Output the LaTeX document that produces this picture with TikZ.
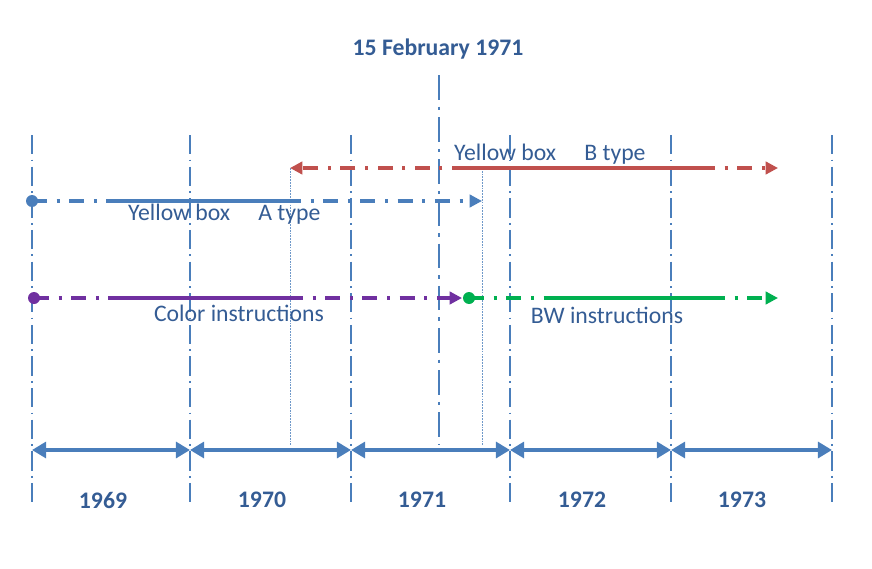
\documentclass[tikz,border=0pt]{standalone}
\usepackage{fontspec}
\setmainfont{Carlito}
\usetikzlibrary{arrows.meta}
\definecolor{lineblue}{RGB}{74,126,187}
\definecolor{linered}{RGB}{192,80,77}
\definecolor{linepurple}{RGB}{112,48,160}
\definecolor{linegreen}{RGB}{0,176,80}
\definecolor{textblue}{RGB}{52,92,148}
\tikzset{ bound/.style = { draw = lineblue % year boundary
, line width = 0.6pt
, dash pattern = on 11pt off 3pt on 1pt off 3pt
}
, today/.style = { draw = lineblue % the day itself
, line width = 1.3pt
, dash pattern = on 14pt off 4pt on 2pt off 4pt
}
, guide/.style = { draw = lineblue!80 % thin drop line
, line width = 0.4pt
, dash pattern = on 1pt off 0.6pt
}
, dd/.style = { line width = 2.3pt % dash dot
, dash pattern = on 8.5pt off 5.5pt on 1.7pt off 5.5pt
}
, full/.style = { line width = 2.3pt % solid part
}
, tip/.style = { -{Triangle[length=7pt,width=7pt]}
}
, dot/.style = { circle
, inner sep = 0pt
, minimum size = 2.4mm
}
, yr/.style = { {Triangle[length=8pt,width=9pt]}-{Triangle[length=8pt,width=9pt]}
, draw = lineblue
, line width = 2.3pt
}
, lbl/.style = { font = \fontsize{13.5}{15}\selectfont
, text = textblue
}
, year/.style = { font = \fontsize{13.5}{15}\selectfont\bfseries
, text = textblue
}
}
\begin{document}
\begin{tikzpicture}[x=0.02cm, y=-0.02cm]
        \useasboundingbox (0,0) rectangle (872,568);

        % year boundaries
            \coordinate (t0) at (32,135);  \coordinate (u0) at (32,505);
            \coordinate (t1) at (190,135); \coordinate (u1) at (190,505);
            \coordinate (t2) at (351,135); \coordinate (u2) at (351,505);
            \coordinate (t3) at (510,135); \coordinate (u3) at (510,505);
            \coordinate (t4) at (671,135); \coordinate (u4) at (671,505);
            \coordinate (t5) at (832,135); \coordinate (u5) at (832,505);
            \draw [bound] (t0) -- (u0);
            \draw [bound] (t1) -- (u1);
            \draw [bound] (t2) -- (u2);
            \draw [bound] (t3) -- (u3);
            \draw [bound] (t4) -- (u4);
            \draw [bound] (t5) -- (u5);

        % years
            \coordinate (y0) at (32,450);
            \coordinate (y1) at (190,450);
            \coordinate (y2) at (351,450);
            \coordinate (y3) at (510,450);
            \coordinate (y4) at (671,450);
            \coordinate (y5) at (832,450);
            \draw [yr] (y0) -- (y1);
            \draw [yr] (y1) -- (y2);
            \draw [yr] (y2) -- (y3);
            \draw [yr] (y3) -- (y4);
            \draw [yr] (y4) -- (y5);
            \node [year] (n1969) at (103,500) {1969};
            \node [year] (n1970) at (262,500) {1970};
            \node [year] (n1971) at (422,500) {1971};
            \node [year] (n1972) at (582,500) {1972};
            \node [year] (n1973) at (742,500) {1973};

        % 15 February 1971
            \node [year] (day) at (438,49) {15 February 1971};
            \coordinate (d1) at (439,75);
            \coordinate (d2) at (439,445);
            \draw [today] (d1) -- (d2);

        % drop lines
            \coordinate (g1) at (290,168); \coordinate (g2) at (290,445);
            \coordinate (g3) at (482,168); \coordinate (g4) at (482,445);
            \draw [guide] (g1) -- (g2);
            \draw [guide] (g3) -- (g4);

        % yellow box B type
            \coordinate (b0) at (290,168);
            \coordinate (b1) at (467,168);
            \coordinate (b2) at (700,168);
            \coordinate (b3) at (778,168);
            \draw [dd, linered, -{Triangle[length=7pt,width=7pt]}] (b1) -- (b0);
            \draw [full, linered] (b1) -- (b2);
            \draw [dd, linered, tip] (b2) -- (b3);
            \node [lbl, anchor=west] (lb) at (448,154) {Yellow box\hspace{16pt}B type};

        % yellow box A type
            \node [dot, fill=lineblue] (a0) at (32,201) {};
            \coordinate (a1) at (111,201);
            \coordinate (a2) at (286,201);
            \coordinate (a3) at (482,201);
            \draw [dd, lineblue] (a0.center) -- (a1);
            \draw [full, lineblue] (a1) -- (a2);
            \draw [dd, lineblue, tip] (a2) -- (a3);
            \node [lbl, anchor=west] (la) at (122,214) {Yellow box\hspace{16pt}A type};

        % colour instructions
            \node [dot, fill=linepurple] (c0) at (34,298) {};
            \coordinate (c1) at (113,298);
            \coordinate (c2) at (288,298);
            \coordinate (c3) at (462,298);
            \draw [dd, linepurple] (c0.center) -- (c1);
            \draw [full, linepurple] (c1) -- (c2);
            \draw [dd, linepurple, tip] (c2) -- (c3);
            \node [lbl] (lc) at (239,313) {Color instructions};

        % BW instructions
            \node [dot, fill=linegreen] (w0) at (469,298) {};
            \coordinate (w1) at (549,298);
            \coordinate (w2) at (710,298);
            \coordinate (w3) at (778,298);
            \draw [dd, linegreen] (w0.center) -- (w1);
            \draw [full, linegreen] (w1) -- (w2);
            \draw [dd, linegreen, tip] (w2) -- (w3);
            \node [lbl] (lw) at (607,315) {BW instructions};

        \end{tikzpicture}
\end{document}
